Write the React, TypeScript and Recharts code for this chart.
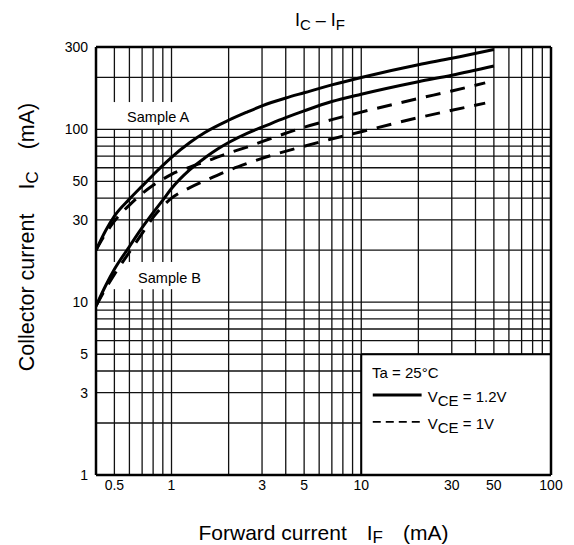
import React from 'react';
import { LineChart, Line, XAxis, YAxis, ReferenceLine, ReferenceDot } from 'recharts';

// Forward current IF (mA) vs collector current IC (mA)
const sampleA_vce12 = [
  { x: 0.4, y: 20 }, { x: 0.45, y: 26 }, { x: 0.5, y: 31.5 }, { x: 0.6, y: 39.5 },
  { x: 0.7, y: 47 }, { x: 0.8, y: 54.5 }, { x: 0.9, y: 62 }, { x: 1, y: 69 },
  { x: 1.25, y: 84 }, { x: 1.5, y: 96 }, { x: 2, y: 113 }, { x: 2.5, y: 126 },
  { x: 3, y: 137 }, { x: 4, y: 152 }, { x: 5, y: 163 }, { x: 7, y: 181 },
  { x: 10, y: 200 }, { x: 20, y: 237 }, { x: 30, y: 258 }, { x: 50, y: 290 },
];
const sampleA_vce1 = [
  { x: 0.4, y: 20 }, { x: 0.45, y: 25 }, { x: 0.5, y: 29.5 }, { x: 0.6, y: 36.5 },
  { x: 0.7, y: 42.5 }, { x: 0.8, y: 47.5 }, { x: 0.9, y: 51.5 }, { x: 1, y: 55 },
  { x: 1.25, y: 60.5 }, { x: 1.5, y: 65 }, { x: 2, y: 73 }, { x: 2.5, y: 79 },
  { x: 3, y: 85 }, { x: 4, y: 95 }, { x: 5, y: 103 }, { x: 7, y: 114 },
  { x: 10, y: 126 }, { x: 20, y: 151 }, { x: 30, y: 167 }, { x: 45, y: 186 },
];
const sampleB_vce12 = [
  { x: 0.4, y: 9.5 }, { x: 0.45, y: 12.5 }, { x: 0.5, y: 15.5 }, { x: 0.6, y: 21 },
  { x: 0.7, y: 27 }, { x: 0.8, y: 33 }, { x: 0.9, y: 39 }, { x: 1, y: 45.5 },
  { x: 1.25, y: 58.5 }, { x: 1.5, y: 68.5 }, { x: 1.75, y: 77 }, { x: 2, y: 84 },
  { x: 2.5, y: 95 }, { x: 3, y: 103 }, { x: 4, y: 117 }, { x: 5, y: 128 },
  { x: 7, y: 145 }, { x: 10, y: 160 }, { x: 20, y: 189 }, { x: 30, y: 206 },
  { x: 50, y: 233 },
];
const sampleB_vce1 = [
  { x: 0.4, y: 9.5 }, { x: 0.45, y: 12 }, { x: 0.5, y: 14.5 }, { x: 0.6, y: 19.5 },
  { x: 0.7, y: 25 }, { x: 0.8, y: 31 }, { x: 0.9, y: 36 }, { x: 1, y: 40 },
  { x: 1.25, y: 46 }, { x: 1.5, y: 50.5 }, { x: 2, y: 58 }, { x: 2.5, y: 63.5 },
  { x: 3, y: 68 }, { x: 5, y: 80 }, { x: 10, y: 97 }, { x: 20, y: 117 },
  { x: 30, y: 129 }, { x: 45, y: 142 },
];

const xTicks = [0.5, 1, 3, 5, 10, 30, 50, 100];
const yTicks = [1, 3, 5, 10, 30, 50, 100, 300];

const xDomain: [number, number] = [0.4, 100];
const yDomain: [number, number] = [1, 300];

// grid values
const xMinorLow = [0.5, 0.6, 0.7, 0.8, 0.9, 1];
const xMid = [2, 3, 4, 5, 6, 7, 8, 9, 10];
const xHigh = [20, 30, 40, 50, 60, 70, 80, 90];
const yLow = [2, 3, 4];
const yRest = [5, 6, 7, 8, 9, 10, 20, 30, 40, 50, 60, 70, 80, 90, 100, 200];

const FONT = '"Liberation Sans", Arial, Helvetica, sans-serif';
const GRID = '#111';
const GW = 1.3;

type Seg = [[number, number], [number, number]];

const gridSegments: Seg[] = [
  // low vertical lines broken around the "Sample" labels
  ...xMinorLow.flatMap((v) => [
    [[v, 1], [v, 11.9]] as Seg,
    [[v, 17.1], [v, 100.5]] as Seg,
    [[v, 144], [v, 300]] as Seg,
  ]),
  ...xMid.map((v) => [[v, 1], [v, 300]] as Seg),
  // above the legend box
  ...xHigh.map((v) => [[v, 5], [v, 300]] as Seg),
  ...yLow.map((v) => [[0.4, v], [10, v]] as Seg),
  ...yRest.map((v) => [[0.4, v], [100, v]] as Seg),
];

const textLabel = (render: (x: number, y: number) => React.ReactNode) => ({
  content: (p: any) => {
    const vb = p.viewBox || {};
    return render(vb.x + (vb.width || 0) / 2, vb.y + (vb.height || 0) / 2);
  },
});

const VceText = ({ x, y, value }: { x: number; y: number; value: string }) => (
  <text x={x} y={y} fontFamily={FONT} fontSize={15} fill="#000" dominantBaseline="central">
    <tspan>V</tspan>
    <tspan dy={4}>CE</tspan>
    <tspan dy={-4}>{` = ${value}`}</tspan>
  </text>
);

export default function App() {
  return (
    <div style={{ position: 'absolute', left: 0, top: 0, width: 574, height: 545, background: '#fff' }}>
      <div
        style={{
          position: 'absolute', left: 0, top: 9, width: 640, textAlign: 'center',
          fontFamily: FONT, fontSize: 18, color: '#000', lineHeight: '22px', whiteSpace: 'pre',
        }}
      >
        I<span style={{ fontSize: 15, position: 'relative', top: 4 }}>C</span>{' – I'}
        <span style={{ fontSize: 15, position: 'relative', top: 4 }}>F</span>
      </div>
      <LineChart
        width={574}
        height={545}
        margin={{ top: 47, right: 23, bottom: 40, left: 36 }}
        style={{ position: 'absolute', left: 0, top: 0 }}
      >
        <XAxis
          dataKey="x"
          type="number"
          scale="log"
          domain={xDomain}
          ticks={xTicks}
          allowDataOverflow
          axisLine={false}
          tickLine={false}
          tickSize={0}
          tickMargin={5}
          height={30}
          tick={{ fontSize: 14, fill: '#000', fontFamily: FONT }}
          tickFormatter={(v: number) => String(v)}
          label={{
            content: (p: any) => {
              const vb = p.viewBox;
              const cx = vb.x + vb.width / 2;
              return (
                <text x={cx} y={532} textAnchor="middle" dominantBaseline="central" fontFamily={FONT} fontSize={21} fill="#000">
                  <tspan>Forward current</tspan>
                  <tspan dx={20}>I</tspan>
                  <tspan fontSize={17} dy={5}>F</tspan>
                  <tspan dx={20} dy={-5}>(mA)</tspan>
                </text>
              );
            },
          }}
        />
        <YAxis
          dataKey="y"
          type="number"
          scale="log"
          domain={yDomain}
          ticks={yTicks}
          allowDataOverflow
          axisLine={false}
          tickLine={false}
          tickSize={0}
          tickMargin={8}
          width={60}
          tick={{ fontSize: 14, fill: '#000', fontFamily: FONT }}
          tickFormatter={(v: number) => String(v)}
          label={{
            content: () => (
              <text
                x={0}
                y={0}
                transform="translate(27, 237) rotate(-90)"
                textAnchor="middle"
                dominantBaseline="central"
                fontFamily={FONT}
                fontSize={21.5}
                fill="#000"
              >
                <tspan>Collector current</tspan>
                <tspan dx={24}>I</tspan>
                <tspan fontSize={17} dy={5}>C</tspan>
                <tspan dx={22} dy={-5}>(mA)</tspan>
              </text>
            ),
          }}
        />

        {gridSegments.map((s, i) => (
          <ReferenceLine
            key={`g${i}`}
            segment={[{ x: s[0][0], y: s[0][1] }, { x: s[1][0], y: s[1][1] }]}
            stroke={GRID}
            strokeWidth={GW}
          />
        ))}

        {/* plot frame */}
        <ReferenceLine segment={[{ x: 0.4, y: 1 }, { x: 0.4, y: 300 }]} stroke="#000" strokeWidth={2.5} />
        <ReferenceLine segment={[{ x: 100, y: 1 }, { x: 100, y: 300 }]} stroke="#000" strokeWidth={2.5} />
        <ReferenceLine segment={[{ x: 0.4, y: 1 }, { x: 100, y: 1 }]} stroke="#000" strokeWidth={2.5} />
        <ReferenceLine segment={[{ x: 0.4, y: 300 }, { x: 100, y: 300 }]} stroke="#000" strokeWidth={2.5} />
        {/* legend frame */}
        <ReferenceLine segment={[{ x: 10, y: 1 }, { x: 10, y: 5 }]} stroke="#000" strokeWidth={2} />
        <ReferenceLine segment={[{ x: 10, y: 5 }, { x: 100, y: 5 }]} stroke="#000" strokeWidth={2} />

        <Line data={sampleA_vce12} dataKey="y" type="monotone" stroke="#000" strokeWidth={3} dot={false} isAnimationActive={false} />
        <Line data={sampleB_vce12} dataKey="y" type="monotone" stroke="#000" strokeWidth={3} dot={false} isAnimationActive={false} />
        <Line data={sampleA_vce1} dataKey="y" type="monotone" stroke="#000" strokeWidth={3} strokeDasharray="15 10" dot={false} isAnimationActive={false} />
        <Line data={sampleB_vce1} dataKey="y" type="monotone" stroke="#000" strokeWidth={3} strokeDasharray="15 10" dot={false} isAnimationActive={false} />

        <ReferenceDot
          x={0.85}
          y={118}
          r={0}
          fill="none"
          stroke="none"
          label={textLabel((x, y) => (
            <text x={x} y={y} textAnchor="middle" dominantBaseline="central" fontFamily={FONT} fontSize={14.5} fill="#000">Sample A</text>
          ))}
        />
        <ReferenceDot
          x={0.976}
          y={13.9}
          r={0}
          fill="none"
          stroke="none"
          label={textLabel((x, y) => (
            <text x={x} y={y} textAnchor="middle" dominantBaseline="central" fontFamily={FONT} fontSize={14.5} fill="#000">Sample B</text>
          ))}
        />

        {/* legend */}
        <ReferenceDot
          x={11.4}
          y={3.9}
          r={0}
          fill="none"
          stroke="none"
          label={textLabel((x, y) => (
            <text x={x} y={y} dominantBaseline="central" fontFamily={FONT} fontSize={15} fill="#000">Ta = 25°C</text>
          ))}
        />
        <ReferenceLine segment={[{ x: 11.5, y: 2.9 }, { x: 20.8, y: 2.9 }]} stroke="#000" strokeWidth={3} />
        <ReferenceLine segment={[{ x: 11.5, y: 2.03 }, { x: 20.8, y: 2.03 }]} stroke="#000" strokeWidth={1.6} strokeDasharray="8 5" />
        <ReferenceDot
          x={22.4}
          y={2.85}
          r={0}
          fill="none"
          stroke="none"
          label={textLabel((x, y) => <VceText x={x} y={y} value="1.2V" />)}
        />
        <ReferenceDot
          x={22.4}
          y={2.0}
          r={0}
          fill="none"
          stroke="none"
          label={textLabel((x, y) => <VceText x={x} y={y} value="1V" />)}
        />
      </LineChart>
    </div>
  );
}
